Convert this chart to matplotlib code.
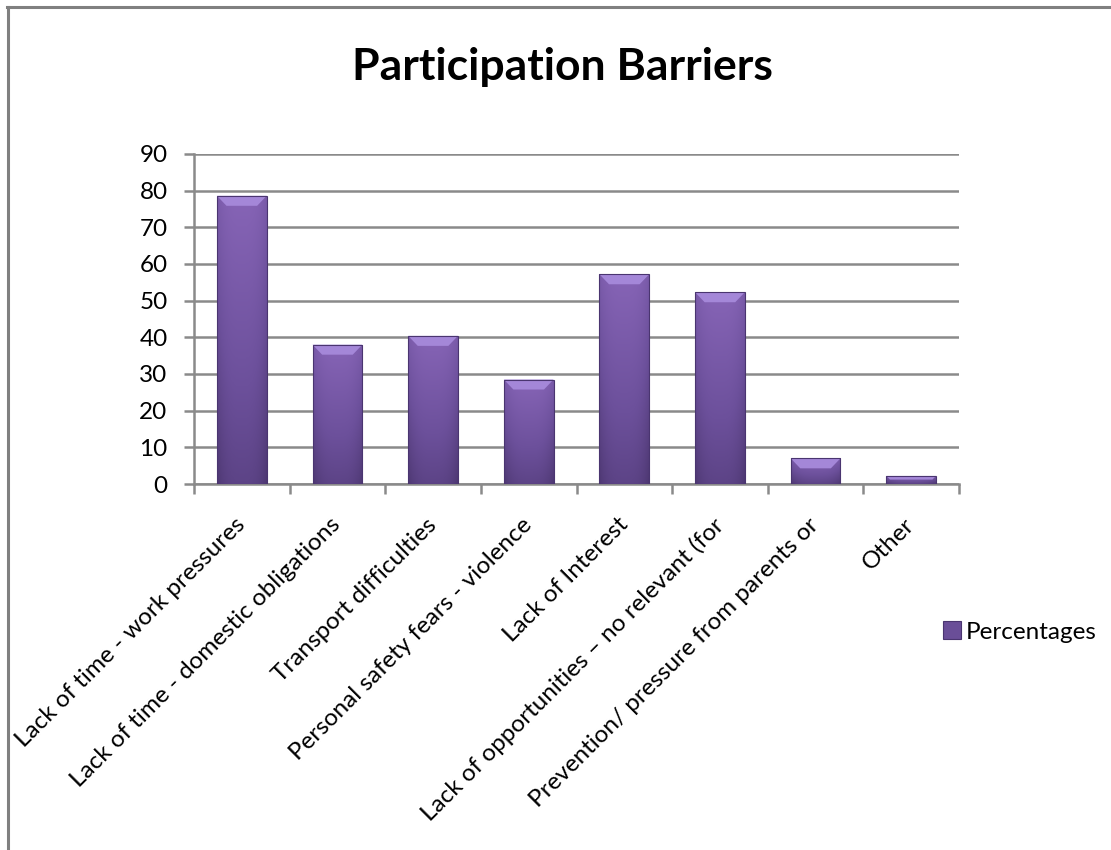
import numpy as np
import matplotlib
matplotlib.use("Agg")
import matplotlib.pyplot as plt
from matplotlib.patches import Polygon, Rectangle
from matplotlib.lines import Line2D
from matplotlib.colors import LinearSegmentedColormap

categories = [
    "Lack of time - work pressures",
    "Lack of time - domestic obligations",
    "Transport difficulties",
    "Personal safety fears - violence",
    "Lack of Interest",
    "Lack of opportunities \u2013 no relevant (for",
    "Prevention/ pressure from parents or",
    "Other",
]
values = [78.6, 38.0, 40.4, 28.5, 57.2, 52.3, 7.0, 2.2]
series_name = "Percentages"
title = "Participation Barriers"
yticks = [0, 10, 20, 30, 40, 50, 60, 70, 80, 90]

plt.rcParams["font.family"] = ["Lato", "DejaVu Sans"]

W, H = 1111, 850
fig = plt.figure(figsize=(W / 100, H / 100), dpi=100)
fig.patch.set_facecolor("white")

ax = fig.add_axes([194 / W, 1 - 484 / H, (959 - 194) / W, (484 - 154) / H])
x = np.arange(len(categories))
bars = ax.bar(x, values, width=0.52, color="#6E519C", zorder=3, edgecolor="none")

ax.set_xlim(-0.5, len(categories) - 0.5)
ax.set_ylim(0, 90)
ax.set_yticks(yticks)
ax.set_yticklabels([str(v) for v in yticks], fontsize=17.5)

grid_col = "#8a8a8a"
ax.yaxis.grid(True, color=grid_col, linewidth=1.8, zorder=1)
ax.set_axisbelow(True)
for s in ["top", "right"]:
    ax.spines[s].set_visible(False)
for s in ["left", "bottom"]:
    ax.spines[s].set_color(grid_col)
    ax.spines[s].set_linewidth(1.8)

ax.tick_params(axis="y", direction="out", length=7, width=1.8, color=grid_col, pad=12)
ax.set_xticks(x)
ax.set_xticklabels(categories, rotation=45, ha="right", va="center",
                   rotation_mode="anchor", fontsize=17.5)
ax.tick_params(axis="x", which="major", length=0, pad=27)
ax.set_xticks(np.arange(len(categories) + 1) - 0.5, minor=True)
ax.tick_params(axis="x", which="minor", direction="out", length=7, width=1.8, color=grid_col)

# gradient body + bevel top
vert = np.linspace(0, 1, 64)[:, None]
horiz = np.linspace(-1, 1, 64)[None, :]
shade = 0.75 * vert + 0.25 * (1 - np.abs(horiz) ** 3)
cmap = LinearSegmentedColormap.from_list("pb", ["#4E3873", "#6C509B", "#8664B6"])
ppu_y = (484 - 154) / 90.0
for b, v in zip(bars, values):
    x0, w = b.get_x(), b.get_width()
    im = ax.imshow(shade, cmap=cmap, extent=[x0, x0 + w, 0, v], origin="lower",
                   aspect="auto", zorder=3, interpolation="bilinear")
    im.set_clip_path(b)
    bh = min(10 / ppu_y, v * 0.45)
    dx = min(0.1, bh * ppu_y / 95.6)
    bevel = Polygon([[x0, v], [x0 + w, v], [x0 + w - dx, v - bh], [x0 + dx, v - bh]],
                    closed=True, facecolor="#A487D8", edgecolor="none", zorder=4)
    ax.add_patch(bevel)
    ax.add_patch(Rectangle((x0, 0), w, v, fill=False, edgecolor="#4A3570",
                           linewidth=0.8, zorder=5))
ax.set_aspect("auto")

handle = Rectangle((0, 0), 1, 1, facecolor="#6A4E98", edgecolor="#4A3570", linewidth=0.8)
leg = fig.legend([handle], [series_name], loc="center left",
                 bbox_to_anchor=(943 / W, 1 - 632 / H), frameon=False, fontsize=17.5,
                 handlelength=0.75, handleheight=0.75, handletextpad=0.2,
                 borderpad=0, borderaxespad=0)

fig.text(562 / W, 1 - 67 / H, title, ha="center", va="center",
         fontsize=32, fontweight="bold")

fig.add_artist(Line2D([8 / W, 8 / W], [0, 1 - 7 / H], color="#808080", linewidth=2.2))
fig.add_artist(Line2D([7 / W, 1], [1 - 7 / H, 1 - 7 / H], color="#808080", linewidth=2.2))

fig.savefig("out.png", dpi=100, facecolor="white")
